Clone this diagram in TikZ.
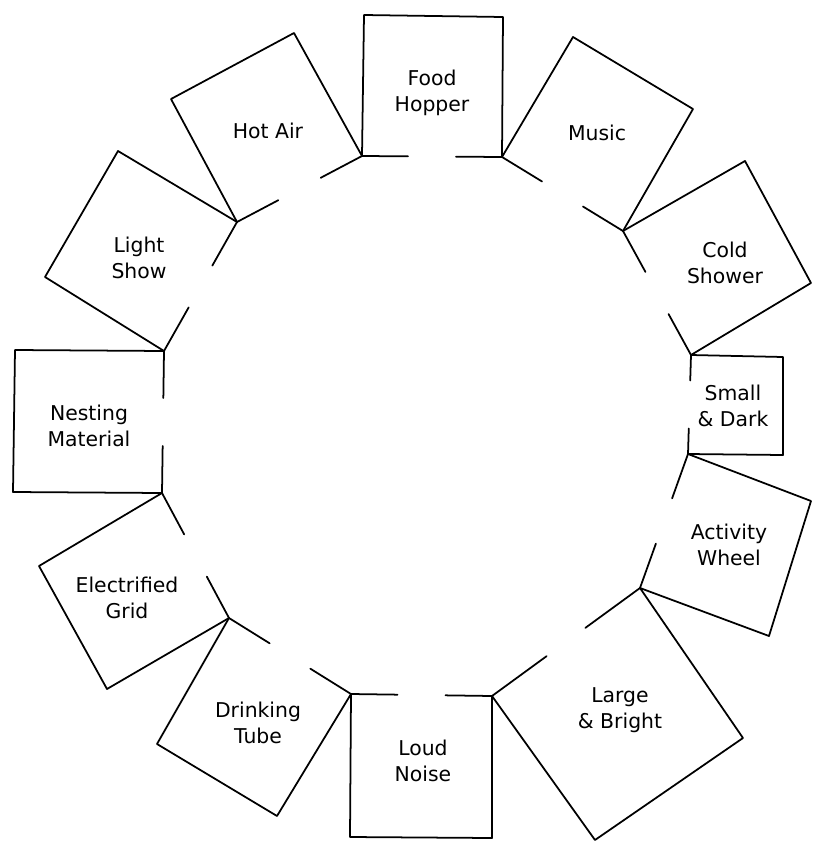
\documentclass[tikz,border=0pt]{standalone}
\usepackage{fontspec}
\setmainfont{DejaVu Sans}
\usetikzlibrary{calc}
\newcommand{\doorhalf}{0.48cm}
\newcommand{\cage}[4]{\draw[wall] (#1)--(#2)--(#3)--(#4);
\draw[wall] (#1)--($(#1)!.5!(#4)!\doorhalf!(#1)$);
\draw[wall] (#4)--($(#1)!.5!(#4)!\doorhalf!(#4)$);}
\tikzset{wall/.style={line width=1pt,line cap=round,line join=round},
    lbl/.style={align=center,inner sep=0pt,font=\fontsize{11.6}{14.8}\selectfont}}

\begin{document}
\begin{tikzpicture}[x=0.02cm,y=-0.02cm]
            \useasboundingbox (0,0) rectangle (812,842);
            % inner corners of the ring
            \coordinate (v1) at (362,156); \coordinate (v2) at (502,157);
            \coordinate (v3) at (623,231); \coordinate (v4) at (691,355);
            \coordinate (v5) at (688,454); \coordinate (v6) at (640,588);
            \coordinate (v7) at (492,696); \coordinate (v8) at (351,694);
            \coordinate (v9) at (229,618); \coordinate (v10) at (162,493);
            \coordinate (v11) at (164,351); \coordinate (v12) at (237,222);
            % outer corners
            \coordinate (fa) at (364,15); \coordinate (fb) at (503,17);
            \coordinate (ma) at (573,37); \coordinate (mb) at (693,109);
            \coordinate (ca) at (745,161); \coordinate (cb) at (811,283);
            \coordinate (sa) at (783,357); \coordinate (sb) at (783,455);
            \coordinate (wa) at (811,501); \coordinate (wb) at (769,636);
            \coordinate (la) at (743,738); \coordinate (lb) at (595,840);
            \coordinate (na) at (492,838); \coordinate (nb) at (350,837);
            \coordinate (da) at (277,816); \coordinate (db) at (157,744);
            \coordinate (ga) at (107,689); \coordinate (gb) at (39,566);
            \coordinate (ta) at (13,492); \coordinate (tb) at (15,350);
            \coordinate (sha) at (45,277); \coordinate (shb) at (118,151);
            \coordinate (ha) at (171,99); \coordinate (hb) at (294,33);

            \cage{v1}{fa}{fb}{v2}
            \cage{v2}{ma}{mb}{v3}
            \cage{v3}{ca}{cb}{v4}
            \cage{v4}{sa}{sb}{v5}
            \cage{v5}{wa}{wb}{v6}
            \cage{v6}{la}{lb}{v7}
            \cage{v7}{na}{nb}{v8}
            \cage{v8}{da}{db}{v9}
            \cage{v9}{ga}{gb}{v10}
            \cage{v10}{ta}{tb}{v11}
            \cage{v11}{sha}{shb}{v12}
            \cage{v12}{ha}{hb}{v1}

            \node[lbl] (food) at (432,93) {Food\\Hopper};
            \node[lbl] (music) at (597,133) {Music};
            \node[lbl] (cold) at (725,263) {Cold\\Shower};
            \node[lbl] (small) at (733,406) {Small\\\& Dark};
            \node[lbl] (wheel) at (729,545) {Activity\\Wheel};
            \node[lbl] (large) at (620,710) {Large\\\& Bright};
            \node[lbl] (loud) at (423,761) {Loud\\Noise};
            \node[lbl] (drink) at (258,723) {Drinking\\Tube};
            \node[lbl] (grid) at (127,598) {Electrified\\Grid};
            \node[lbl] (nest) at (89,426) {Nesting\\Material};
            \node[lbl] (light) at (139,258) {Light\\Show};
            \node[lbl] (hot) at (268,131) {Hot Air};
        \end{tikzpicture}
\end{document}
